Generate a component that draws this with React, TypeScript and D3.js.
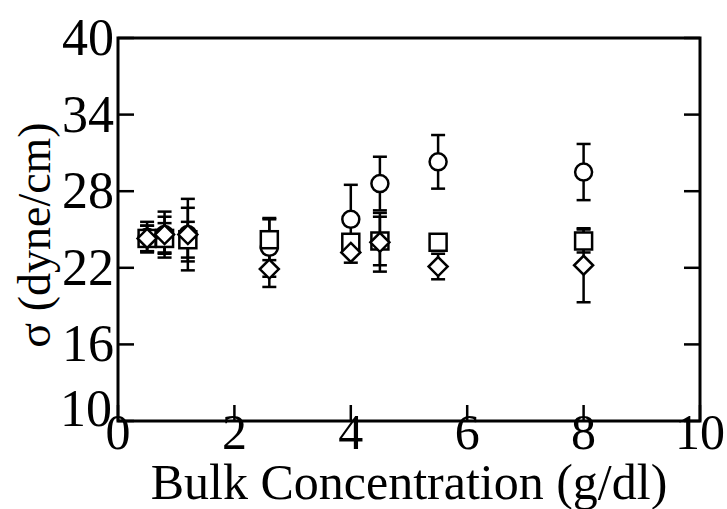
import React from "react";
import * as d3 from "d3";

const xValues = [0.5, 0.8, 1.2, 2.6, 4.0, 4.5, 5.5, 8.0];
const circleValues = [24.4, 24.6, 24.6, 23.6, 25.8, 28.6, 30.3, 29.5];
const circleErrors = [1.2, 1.4, 2.8, 2.3, 2.7, 2.1, 2.1, 2.2];
const squareValues = [24.3, 24.3, 24.2, 24.2, 24.0, 24.1, 24.0, 24.1];
const squareErrors = [1.0, 1.2, 1.4, 1.6, 0.5, 1.9, 0.5, 0.9];
const diamondValues = [24.3, 24.6, 24.6, 21.9, 23.2, 24.0, 22.1, 22.2];
const diamondErrors = [1.0, 1.8, 2.1, 1.4, 0.8, 2.3, 1.0, 2.9];
const xTicks = [0, 2, 4, 6, 8, 10];
const yTicks = [10, 16, 22, 28, 34, 40];
const xTitle = "Bulk Concentration (g/dl)";
const yTitle = "σ (dyne/cm)";

const W = 727, H = 509;
const L = 118, R = 700, T = 38, B = 421;
const FONT = "'Liberation Serif', 'Times New Roman', serif";

export default function App() {
  const x = d3.scaleLinear().domain([0, 10]).range([L, R]);
  const y = d3.scaleLinear().domain([10, 40]).range([B, T]);
  const tickLen = 16;
  const capW = 7;

  const series = [
    { kind: "circle", v: circleValues, e: circleErrors },
    { kind: "square", v: squareValues, e: squareErrors },
    { kind: "diamond", v: diamondValues, e: diamondErrors },
  ];

  const marker = (kind: string, cx: number, cy: number, key: string) => {
    const sw = 2.5;
    if (kind === "circle")
      return <circle key={key} cx={cx} cy={cy} r={8.5} fill="white" stroke="black" strokeWidth={sw} />;
    if (kind === "square")
      return <rect key={key} x={cx - 8.5} y={cy - 8.5} width={17} height={17} fill="white" stroke="black" strokeWidth={sw} />;
    const s = 9.5;
    return (
      <path key={key} d={`M${cx},${cy - s}L${cx + s},${cy}L${cx},${cy + s}L${cx - s},${cy}Z`} fill="white" stroke="black" strokeWidth={sw} />
    );
  };

  return (
    <svg width={W} height={H} style={{ position: "absolute", left: 0, top: 0, background: "white" }}>
      <rect x={0} y={0} width={W} height={H} fill="white" />
      {series.map((s) =>
        xValues.map((xv, i) => {
          const cx = x(xv);
          const y1 = y(s.v[i] + s.e[i]);
          const y2 = y(s.v[i] - s.e[i]);
          return (
            <g key={`e-${s.kind}-${i}`} stroke="black" strokeWidth={2.5}>
              <line x1={cx} x2={cx} y1={y1} y2={y2} />
              <line x1={cx - capW} x2={cx + capW} y1={y1} y2={y1} />
              <line x1={cx - capW} x2={cx + capW} y1={y2} y2={y2} />
            </g>
          );
        })
      )}
      {series.map((s) =>
        xValues.map((xv, i) => marker(s.kind, x(xv), y(s.v[i]), `m-${s.kind}-${i}`))
      )}
      <rect x={L} y={T} width={R - L} height={B - T} fill="none" stroke="black" strokeWidth={3} />
      {yTicks.map((t) => (
        <g key={`yt-${t}`} stroke="black" strokeWidth={2.5}>
          <line x1={L} x2={L + tickLen} y1={y(t)} y2={y(t)} />
          <line x1={R} x2={R - tickLen} y1={y(t)} y2={y(t)} />
        </g>
      ))}
      {xTicks.map((t) => (
        <g key={`xt-${t}`} stroke="black" strokeWidth={2.5}>
          <line x1={x(t)} x2={x(t)} y1={B} y2={B - tickLen} />
        </g>
      ))}
      {yTicks.map((t) => (
        <text key={`yl-${t}`} x={t === 10 ? L - 6 : L - 4} y={y(t) + (t === 10 ? 5 : 17)} textAnchor="end" fontFamily={FONT} fontSize={52}>
          {t}
        </text>
      ))}
      {xTicks.map((t) => (
        <text key={`xl-${t}`} x={x(t)} y={449} textAnchor="middle" fontFamily={FONT} fontSize={50}>
          {t}
        </text>
      ))}
      <text x={(L + R) / 2} y={499} textAnchor="middle" fontFamily={FONT} fontSize={50}>
        {xTitle}
      </text>
      <text transform={`translate(50,${235}) rotate(-90)`} textAnchor="middle" fontFamily={FONT} fontSize={46}>
        {yTitle}
      </text>
    </svg>
  );
}
